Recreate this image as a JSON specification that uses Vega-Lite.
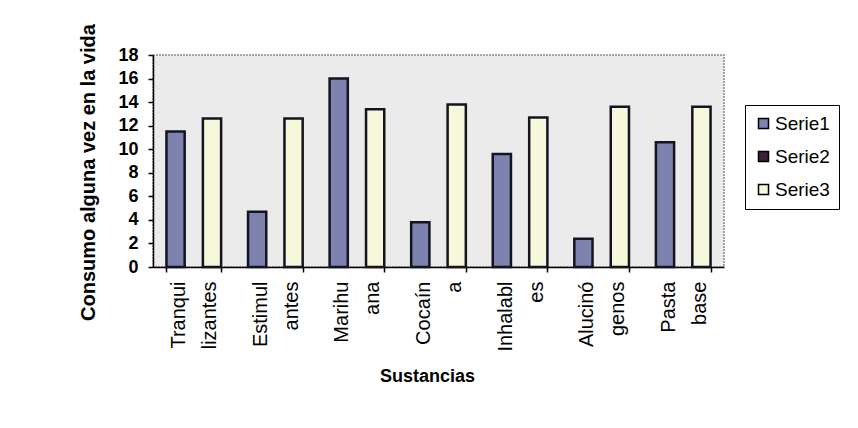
{
  "$schema": "https://vega.github.io/schema/vega-lite/v6.json",
  "width": 571,
  "height": 212,
  "autosize": {"type": "none"},
  "padding": {"left": 153, "top": 55, "right": 134, "bottom": 161},
  "background": "white",
  "config": {
    "font": "Liberation Sans",
    "view": {"fill": "#ebebeb", "stroke": "#8a8a8a", "strokeDash": [2, 1], "strokeWidth": 1.5}
  },
  "data": {
    "values": [
      {"sustancia": "Tranqui lizantes", "serie": "Serie1", "valor": 11.5},
      {"sustancia": "Tranqui lizantes", "serie": "Serie3", "valor": 12.6},
      {"sustancia": "Estimul antes", "serie": "Serie1", "valor": 4.7},
      {"sustancia": "Estimul antes", "serie": "Serie3", "valor": 12.6},
      {"sustancia": "Marihu ana", "serie": "Serie1", "valor": 16.0},
      {"sustancia": "Marihu ana", "serie": "Serie3", "valor": 13.4},
      {"sustancia": "Cocaín a", "serie": "Serie1", "valor": 3.8},
      {"sustancia": "Cocaín a", "serie": "Serie3", "valor": 13.8},
      {"sustancia": "Inhalabl es", "serie": "Serie1", "valor": 9.6},
      {"sustancia": "Inhalabl es", "serie": "Serie3", "valor": 12.7},
      {"sustancia": "Alucinó genos", "serie": "Serie1", "valor": 2.4},
      {"sustancia": "Alucinó genos", "serie": "Serie3", "valor": 13.6},
      {"sustancia": "Pasta base", "serie": "Serie1", "valor": 10.6},
      {"sustancia": "Pasta base", "serie": "Serie3", "valor": 13.6}
    ]
  },
  "mark": {"type": "bar", "stroke": "#141420", "strokeWidth": 2.5},
  "encoding": {
    "x": {
      "field": "sustancia",
      "type": "nominal",
      "sort": ["Tranqui lizantes", "Estimul antes", "Marihu ana", "Cocaín a", "Inhalabl es", "Alucinó genos", "Pasta base"],
      "scale": {"paddingInner": 0.33, "paddingOuter": 0.165},
      "axis": {
        "title": "Sustancias",
        "titleFontSize": 18,
        "titleFontWeight": "bold",
        "titleColor": "black",
        "titleX": 274,
        "titleY": 109,
        "titleBaseline": "middle",
        "titleAlign": "center",
        "labelExpr": "split(datum.label, ' ')",
        "labelAngle": -90,
        "labelAlign": "right",
        "labelBaseline": "middle",
        "labelFontSize": 20,
        "labelLineHeight": 31,
        "labelOffset": -15,
        "labelColor": "black",
        "labelPadding": 9,
        "tickBand": "extent",
        "tickColor": "black",
        "tickSize": 5,
        "tickWidth": 1.5,
        "domainColor": "black",
        "domainWidth": 1.5
      }
    },
    "xOffset": {
      "field": "serie",
      "type": "nominal",
      "scale": {"domain": ["Serie1", "Serie2", "Serie3"], "paddingInner": 0, "paddingOuter": 0}
    },
    "y": {
      "field": "valor",
      "type": "quantitative",
      "scale": {"domain": [0, 18], "nice": false},
      "axis": {
        "title": "Consumo alguna vez en la vida",
        "titleFontSize": 20,
        "titleFontWeight": "bold",
        "titleColor": "black",
        "titleAngle": -90,
        "titleX": -65,
        "titleY": 117,
        "titleAlign": "center",
        "titleBaseline": "middle",
        "values": [0, 2, 4, 6, 8, 10, 12, 14, 16, 18],
        "grid": false,
        "labelFontSize": 18,
        "labelFontWeight": "bold",
        "labelColor": "black",
        "labelPadding": 10,
        "tickColor": "black",
        "tickSize": 5,
        "tickWidth": 1.5,
        "domainColor": "black",
        "domainWidth": 1.5
      }
    },
    "color": {
      "field": "serie",
      "type": "nominal",
      "scale": {"domain": ["Serie1", "Serie2", "Serie3"], "range": ["#7d82af", "#3b2236", "#f7f7dc"]},
      "legend": {
        "title": null,
        "orient": "none",
        "legendX": 592,
        "legendY": 50,
        "strokeColor": "black",
        "fillColor": "white",
        "padding": 9,
        "symbolType": "square",
        "symbolSize": 100,
        "symbolStrokeColor": "black",
        "symbolStrokeWidth": 1.5,
        "labelFontSize": 19,
        "labelColor": "black",
        "labelOffset": 2,
        "rowPadding": 13
      }
    }
  }
}
